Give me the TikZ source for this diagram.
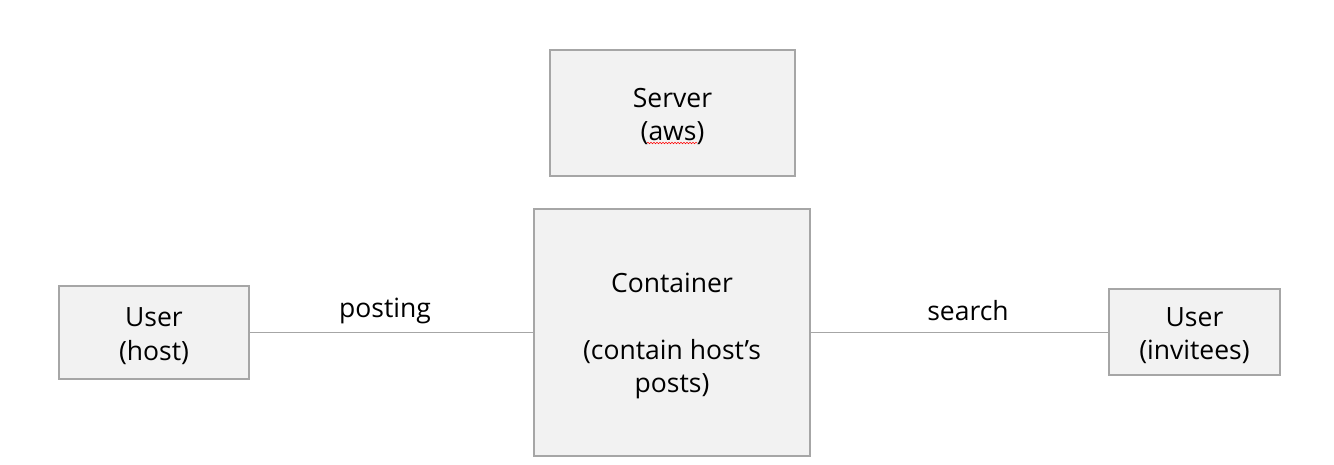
\documentclass[tikz,border=0pt]{standalone}
\usepackage{fontspec}
\setmainfont{Open Sans}
\usetikzlibrary{decorations.pathmorphing}
\definecolor{boxfill}{HTML}{F2F2F2}
\definecolor{boxline}{HTML}{A6A6A6}
\definecolor{conn}{HTML}{A6A6A6}
\begin{document}
\begin{tikzpicture}[x=1pt,y=-1pt,
  box/.style={draw=boxline, line width=1.6pt, fill=boxfill, inner sep=0pt},
  txt/.style={align=center, inner sep=0pt, yshift=-3.5pt, font=\fontsize{26.5}{33.5}\selectfont},
  lbl/.style={font=\fontsize{26.5}{33.5}\selectfont, inner sep=0pt},
  link/.style={draw=conn, line width=1pt}]
\useasboundingbox (0,0) rectangle (1334,465);
\node[box, minimum width=245pt, minimum height=126pt, label={[txt]center:Server\\(aws)}] (server) at (672.5,113) {};
\node[box, minimum width=276pt, minimum height=247pt, label={[txt]center:Container\\\strut\\(contain host’s\\posts)}] (cont) at (672,332.5) {};
\node[box, minimum width=190pt, minimum height=93pt, label={[txt]center:User\\(host)}] (host) at (154,332.5) {};
\node[box, minimum width=171pt, minimum height=86pt, label={[txt]center:User\\(invitees)}] (inv) at (1194.5,332) {};
\draw[link] (host.east) -- (cont.west |- host.east);
\draw[link] (cont.east |- inv.west) -- (inv.west);
\node[lbl] (posting) at (385,311) {posting};
\node[lbl] (search) at (968,311) {search};
\coordinate (w1) at (647,143);
\coordinate (w2) at (697,143);
\draw[red, line width=0.5pt, decorate, decoration={snake, amplitude=0.8pt, segment length=3pt}] (w1) -- (w2);
\end{tikzpicture}
\end{document}
